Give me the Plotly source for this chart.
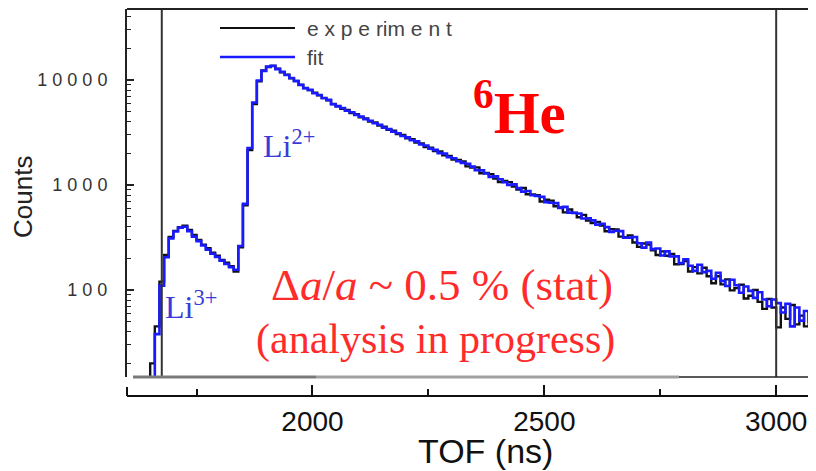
import plotly.graph_objects as go

# ---------------- data ----------------
tof_ns = list(range(1600, 3110, 10))  # histogram bin starts (ns)

experiment = [
    2, 2, 3, 3, 5, 20, 45, 120, 215, 320,
    365, 395, 410, 372, 335, 300, 270, 250, 226, 212,
    193, 182, 168, 150, 255, 640, 2150, 5900, 9700, 12300,
    13300, 13600, 12800, 11850, 11250, 10350, 9800, 8950, 8400, 8000,
    7550, 7150, 6750, 6400, 5900, 5650, 5320, 5180, 4850, 4720,
    4420, 4300, 4020, 3930, 3680, 3590, 3350, 3280, 3050, 2990,
    2780, 2730, 2530, 2490, 2300, 2270, 2100, 2080, 1920, 1890,
    1742, 1732, 1671, 1503, 1464, 1470, 1295, 1301, 1267, 1152,
    1066, 1093, 1064, 967, 905, 936, 817, 813, 799, 697,
    722, 710, 627, 611, 548, 584, 542, 492, 519, 459,
    434, 444, 411, 362, 379, 376, 322, 318, 331, 283,
    257, 277, 270, 238, 215, 233, 212, 220, 176, 177,
    189, 150, 165, 144, 163, 135, 116, 135, 113, 126,
    99, 104, 112, 83, 88, 100, 77, 66, 82, 68,
    44, 68, 53, 72, 47, 57, 45, 60, 39, 49,
    52,
]

fit = [
    2, 2, 3, 3, 4, 12, 38, 110, 205, 310,
    360, 392, 400, 362, 322, 292, 265, 242, 221, 206,
    190, 177, 165, 156, 262, 660, 2250, 6100, 9900, 12200,
    13400, 13650, 12700, 11950, 11150, 10450, 9750, 9000, 8350, 8050,
    7480, 7200, 6700, 6460, 5870, 5600, 5400, 5100, 4920, 4650,
    4480, 4240, 4090, 3870, 3740, 3520, 3400, 3210, 3110, 2930,
    2840, 2670, 2600, 2430, 2380, 2220, 2160, 2010, 1990, 1840,
    1796, 1681, 1622, 1595, 1494, 1385, 1376, 1288, 1193, 1210,
    1133, 1061, 1003, 1016, 933, 864, 877, 797, 784, 771,
    687, 676, 672, 605, 618, 545, 542, 534, 480, 482,
    460, 418, 427, 397, 357, 366, 363, 314, 315, 319,
    279, 253, 283, 245, 248, 213, 233, 208, 209, 180,
    196, 170, 152, 174, 148, 152, 128, 146, 122, 109,
    125, 111, 94, 108, 98, 84, 95, 81, 70, 81,
    75, 61, 74, 45, 68, 51, 63, 50, 61, 50,
    56,
]

x_tick_vals = [2000, 2500, 3000]
x_tick_text = ["2000", "2500", "3000"]
x_minor_vals = [1750, 2250, 2750]
y_tick_vals = [100, 1000, 10000]
y_tick_text = ["1 0 0", "1 0 0 0", "1 0 0 0 0"]
y_minor_vals = [v * m for v in (10, 100, 1000, 10000) for m in range(2, 10)]
marker_lines = [1675, 3000]

# ---------------- geometry helpers ----------------
# the page body adds an 8 px offset; coordinates below are window pixels
OFF = 8
W, H = 816, 471 - OFF
L, R, T, B = 127 - OFF, 0, 1, 75
PW, PH = W - L - R, H - T - B
X_PER_PX = 1000 / 463.7
x_max = 1600 + PW * X_PER_PX


def px(xw):
    return (xw - OFF - L) / PW


def py(yw):
    return (H - B - (yw - OFF)) / PH


y_bottom = py(377)

fig = go.Figure()
fig.add_trace(go.Scatter(x=tof_ns, y=experiment, mode="lines", line=dict(color="#111111", width=2.4, shape="hv"),
                         name="experiment", showlegend=False))
fig.add_trace(go.Scatter(x=tof_ns, y=fit, mode="lines", line=dict(color="#1a1aff", width=2.6, shape="hv"),
                         name="fit", showlegend=False))

shapes = []
for xv in marker_lines:
    shapes.append(dict(type="line", xref="x", yref="y domain", x0=xv, x1=xv, y0=0, y1=1,
                       line=dict(color="#333333", width=2)))
# top frame
shapes.append(dict(type="line", xref="paper", yref="y domain", x0=0, x1=1, y0=1, y1=1,
                   line=dict(color="#222222", width=2)))
# bottom baseline (grey / black)
shapes.append(dict(type="line", xref="paper", yref="paper", x0=px(133), x1=px(316), y0=y_bottom, y1=y_bottom,
                   line=dict(color="#7a7a7a", width=3)))
shapes.append(dict(type="line", xref="paper", yref="paper", x0=px(316), x1=px(679), y0=y_bottom, y1=y_bottom,
                   line=dict(color="#a0a0a0", width=3)))
shapes.append(dict(type="line", xref="paper", yref="paper", x0=px(679), x1=1, y0=y_bottom, y1=y_bottom,
                   line=dict(color="#222222", width=1.5)))
# small end tick of x axis
shapes.append(dict(type="line", xref="paper", yref="paper", x0=0, x1=0, y0=0, y1=py(387),
                   line=dict(color="#111111", width=2)))
# legend samples
shapes.append(dict(type="line", xref="paper", yref="paper", x0=px(220), x1=px(295), y0=py(28), y1=py(28),
                   line=dict(color="#111111", width=2)))
shapes.append(dict(type="line", xref="paper", yref="paper", x0=px(220), x1=px(295), y0=py(57), y1=py(57),
                   line=dict(color="#1a1aff", width=2.4)))

ann = []
sans = "Arial, Liberation Sans, sans-serif"
serif = "Times New Roman, Liberation Serif, serif"
ann.append(dict(text="e x p e rim e n t", x=px(305), y=py(28), xanchor="left", yanchor="middle",
                font=dict(family=sans, size=21, color="#444444")))
ann.append(dict(text="fit", x=px(305), y=py(57), xanchor="left", yanchor="middle",
                font=dict(family=sans, size=21, color="#444444")))
ann.append(dict(text="<b><sup>6</sup>He</b>", x=px(471), y=py(108), xanchor="left", yanchor="middle",
                font=dict(family=serif, size=59, color="#ff0000")))
ann.append(dict(text="Li<sup>2+</sup>", x=px(261), y=py(144), xanchor="left", yanchor="middle",
                font=dict(family=serif, size=32, color="#3a3ad8")))
ann.append(dict(text="Li<sup>3+</sup>", x=px(163), y=py(305), xanchor="left", yanchor="middle",
                font=dict(family=serif, size=32, color="#3a3ad8")))
ann.append(dict(text="Δ<i>a</i>/<i>a</i> ~ 0.5 % (stat)", x=px(442), y=py(285), xanchor="center", yanchor="middle",
                font=dict(family=serif, size=45, color="#ff2b2b")))
ann.append(dict(text="(analysis in progress)", x=px(435), y=py(339), xanchor="center", yanchor="middle",
                font=dict(family=serif, size=42, color="#ff2b2b")))
ann.append(dict(text="Counts", x=px(23), y=py(197), xanchor="center", yanchor="middle", textangle=-90,
                font=dict(family=sans, size=26, color="#222222")))
ann.append(dict(text="TOF (ns)", x=px(485), y=py(451), xanchor="center", yanchor="middle",
                font=dict(family=sans, size=34, color="#111111")))
for a in ann:
    a.update(xref="paper", yref="paper", showarrow=False)

fig.update_layout(
    width=W, height=H,
    margin=dict(l=L, r=R, t=T, b=B),
    paper_bgcolor="white", plot_bgcolor="white",
    shapes=shapes, annotations=ann,
    xaxis=dict(range=[1600, x_max], anchor="free", position=0, showgrid=False, zeroline=False,
               showline=True, linecolor="#111111", linewidth=2,
               tickmode="array", tickvals=x_tick_vals, ticktext=x_tick_text,
               ticks="inside", ticklen=10, tickwidth=2, tickcolor="#111111",
               minor=dict(tickmode="array", tickvals=x_minor_vals, ticks="inside", ticklen=6,
                          tickwidth=2, tickcolor="#111111", showgrid=False),
               tickfont=dict(family=sans, size=28, color="#111111")),
    yaxis=dict(type="log", range=[1.171, 4.676], domain=[y_bottom, 1], showgrid=False, zeroline=False,
               showline=True, linecolor="#222222", linewidth=2,
               tickmode="array", tickvals=y_tick_vals, ticktext=y_tick_text,
               ticks="inside", ticklen=7, tickwidth=1.5, tickcolor="#222222",
               minor=dict(tickmode="array", tickvals=y_minor_vals, ticks="inside", ticklen=4,
                          tickwidth=1.2, tickcolor="#222222", showgrid=False),
               ticklabelstandoff=14,
               tickfont=dict(family=sans, size=18, color="#333333")),
)

fig.write_html("out.html")
